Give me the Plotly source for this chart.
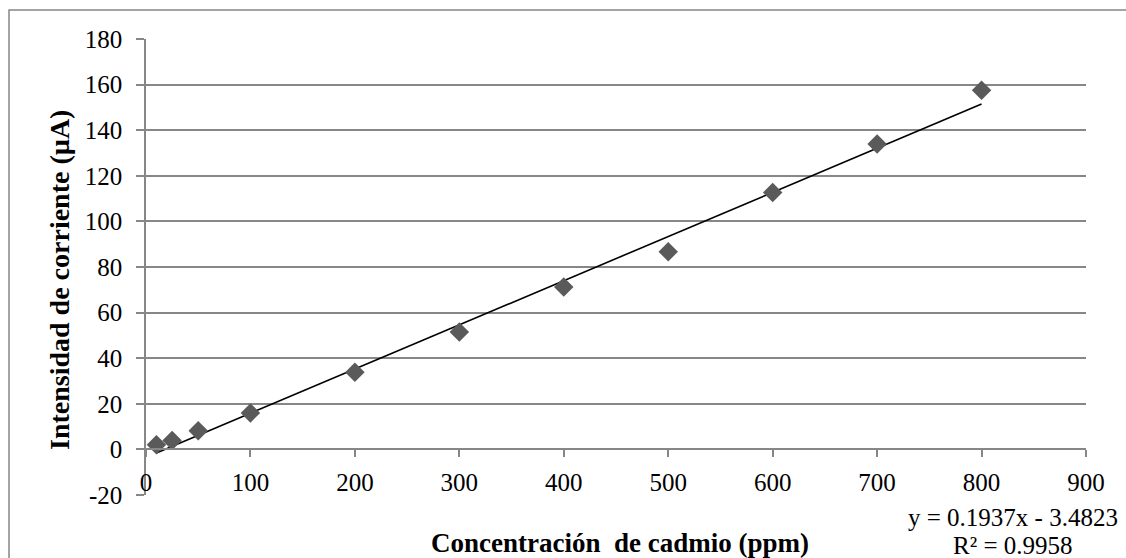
import plotly.graph_objects as go

# Calibration data: cadmium concentration vs. peak current
concentracion_ppm = [10, 25, 50, 100, 200, 300, 400, 500, 600, 700, 800]
intensidad_uA = [2.0, 3.9, 8.2, 16.0, 33.8, 51.5, 71.2, 86.7, 112.7, 134.0, 157.5]

# Linear trendline coefficients (least-squares fit shown on the chart)
pendiente = 0.1937
intercepto = -3.4823
r_cuadrado = 0.9958

x_ticks = [0, 100, 200, 300, 400, 500, 600, 700, 800, 900]
y_ticks = [-20, 0, 20, 40, 60, 80, 100, 120, 140, 160, 180]

W, H = 1126, 558
L, R, T, B = 146, 40, 39, 63
pw, ph = W - L - R, H - T - B

def px_x(p):
    return (p - L) / pw

def px_y(p):
    return (H - B - p) / ph

FONT = "Liberation Serif"
GRAY = "#878787"

x_fit = [min(concentracion_ppm), max(concentracion_ppm)]
y_fit = [pendiente * x + intercepto for x in x_fit]

fig = go.Figure()
fig.add_trace(go.Scatter(
    x=x_fit, y=y_fit, mode="lines",
    line=dict(color="black", width=1.6),
    showlegend=False, hoverinfo="skip",
))
fig.add_trace(go.Scatter(
    x=concentracion_ppm, y=intensidad_uA, mode="markers",
    marker=dict(symbol="diamond", size=15, color="#5a5a5a", line=dict(width=0)),
    showlegend=False,
))

y_lo, y_hi = y_ticks[0], y_ticks[-1]

fig.update_layout(
    width=W, height=H,
    margin=dict(l=L, r=R, t=T, b=B, pad=0),
    paper_bgcolor="white", plot_bgcolor="white",
    font=dict(family=FONT, color="black", size=25),
    xaxis=dict(
        range=[x_ticks[0], x_ticks[-1]],
        tickvals=x_ticks, ticktext=[str(v) for v in x_ticks],
        showgrid=False, zeroline=False,
        showline=True, linecolor=GRAY, linewidth=1.5,
        ticks="outside", ticklen=7, tickcolor=GRAY, tickwidth=1.5,
        anchor="free", position=(0 - y_lo) / (y_hi - y_lo),
        ticklabelstandoff=4,
        tickfont=dict(size=25, family=FONT, color="black"),
    ),
    yaxis=dict(
        range=[y_lo, y_hi],
        tickvals=y_ticks, ticktext=[str(v) for v in y_ticks],
        showgrid=True, gridcolor=GRAY, gridwidth=1.5,
        zeroline=False,
        showline=True, linecolor=GRAY, linewidth=1.5,
        ticks="outside", ticklen=8, tickcolor=GRAY, tickwidth=1.5,
        ticklabelstandoff=9,
        tickfont=dict(size=25, family=FONT, color="black"),
    ),
    shapes=[
        # chart frame
        dict(type="rect", xref="paper", yref="paper",
             x0=px_x(9), x1=px_x(W + 5), y0=px_y(H + 5), y1=px_y(10),
             line=dict(color=GRAY, width=1.5), fillcolor="rgba(0,0,0,0)",
             layer="below"),
    ],
    annotations=[
        dict(text="<b>Intensidad de corriente (µA)</b>", xref="paper", yref="paper",
             x=px_x(59), y=px_y(280), textangle=-90, showarrow=False,
             font=dict(size=28, family=FONT), xanchor="center", yanchor="middle"),
        dict(text="<b>Concentración\u00a0 de cadmio (ppm)</b>", xref="paper", yref="paper",
             x=px_x(620), y=px_y(543), showarrow=False,
             font=dict(size=27, family=FONT), xanchor="center", yanchor="middle"),
        dict(text=f"y = {pendiente}x - {abs(intercepto)}", xref="paper", yref="paper",
             x=px_x(1013), y=px_y(517), showarrow=False,
             font=dict(size=25, family=FONT), xanchor="center", yanchor="middle"),
        dict(text=f"R² = {r_cuadrado}", xref="paper", yref="paper",
             x=px_x(1013), y=px_y(545), showarrow=False,
             font=dict(size=25, family=FONT), xanchor="center", yanchor="middle"),
    ],
)

fig.write_html("out.html")
